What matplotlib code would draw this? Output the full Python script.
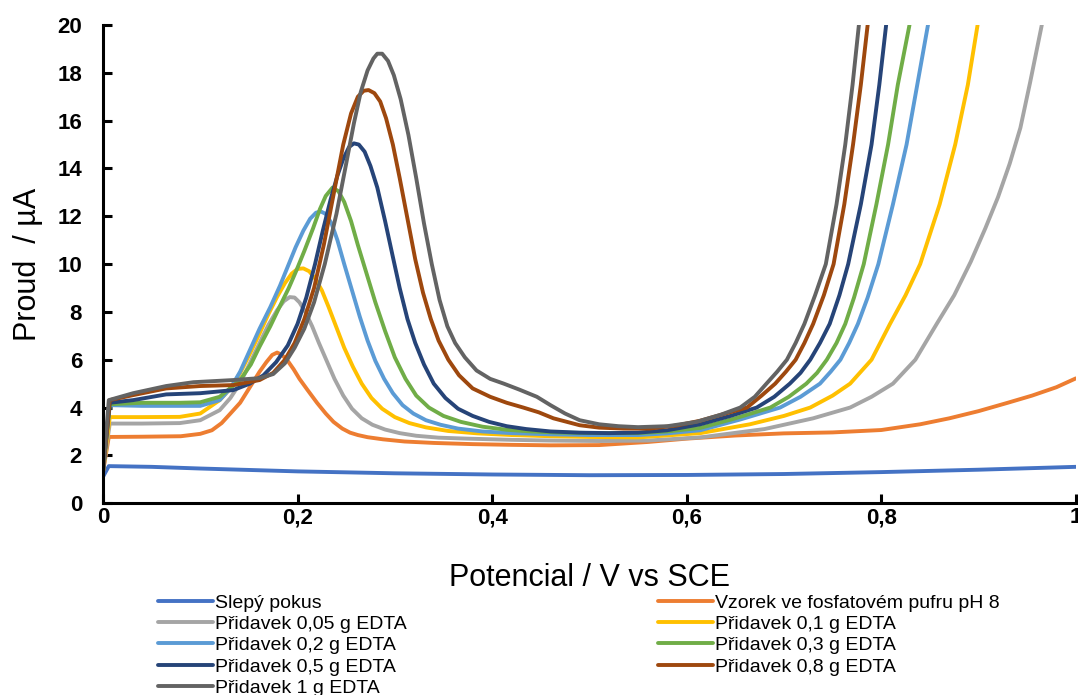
import matplotlib.pyplot as plt
from matplotlib.ticker import FuncFormatter

plt.rcParams['font.family'] = ['Liberation Sans', 'DejaVu Sans']

# Slepý pokus
x_slepy = [0, 0.006, 0.05, 0.1, 0.2, 0.3, 0.4, 0.5, 0.6, 0.7, 0.8, 0.9, 1.0]
y_slepy = [1.1, 1.55, 1.52, 1.45, 1.33, 1.25, 1.2, 1.17, 1.18, 1.22, 1.3, 1.4, 1.52]

# Vzorek ve fosfatovém pufru pH 8
x_vzorek = [0, 0.006, 0.04, 0.08, 0.1, 0.112, 0.122, 0.131, 0.141, 0.151, 0.161, 0.168,
            0.174, 0.179, 0.184, 0.19, 0.196, 0.202, 0.21, 0.22, 0.229, 0.237, 0.246,
            0.254, 0.262, 0.272, 0.288, 0.31, 0.34, 0.38, 0.42, 0.46, 0.51, 0.56, 0.6,
            0.65, 0.7, 0.75, 0.8, 0.84, 0.87, 0.9, 0.93, 0.955, 0.98, 1.0]
y_vzorek = [1.3, 2.77, 2.78, 2.8, 2.9, 3.05, 3.35, 3.75, 4.2, 4.85, 5.5, 5.9,
            6.2, 6.3, 6.2, 5.95, 5.6, 5.2, 4.75, 4.2, 3.75, 3.4, 3.12,
            2.95, 2.85, 2.76, 2.67, 2.58, 2.52, 2.47, 2.44, 2.42, 2.43, 2.56, 2.7,
            2.83, 2.92, 2.96, 3.06, 3.3, 3.55, 3.85, 4.2, 4.5, 4.85, 5.22]

# Přidavek 0,05 g EDTA
x_005 = [0, 0.007, 0.04, 0.079, 0.1, 0.12, 0.131, 0.141, 0.151, 0.161, 0.17, 0.179,
         0.186, 0.192, 0.197, 0.202, 0.208, 0.215, 0.222, 0.23, 0.238, 0.247, 0.256,
         0.266, 0.277, 0.29, 0.305, 0.322, 0.345, 0.374, 0.42, 0.46, 0.51, 0.56,
         0.614, 0.68, 0.73, 0.768, 0.79, 0.812, 0.835, 0.857, 0.875, 0.892, 0.907,
         0.92, 0.932, 0.943, 0.953, 0.965]
y_005 = [1.3, 3.33, 3.33, 3.35, 3.47, 3.89, 4.4, 5.02, 5.85, 6.7, 7.45, 8.07,
         8.45, 8.62, 8.6, 8.4, 8.0, 7.4, 6.7, 5.95, 5.2, 4.5, 3.95,
         3.55, 3.28, 3.08, 2.93, 2.82, 2.74, 2.7, 2.65, 2.62, 2.6, 2.62,
         2.75, 3.1, 3.55, 4.0, 4.45, 5.0, 6.0, 7.5, 8.7, 10.1, 11.5,
         12.8, 14.2, 15.7, 17.6, 20]

# Přidavek 0,1 g EDTA
x_01 = [0, 0.007, 0.04, 0.079, 0.1, 0.12, 0.131, 0.141, 0.151, 0.161, 0.17, 0.179,
        0.187, 0.194, 0.2, 0.206, 0.212, 0.218, 0.225, 0.232, 0.24, 0.248, 0.257,
        0.266, 0.276, 0.287, 0.3, 0.315, 0.332, 0.355, 0.385, 0.42, 0.46, 0.5, 0.55,
        0.614, 0.665, 0.7, 0.727, 0.75, 0.768, 0.79, 0.809, 0.825, 0.84, 0.86,
        0.876, 0.889, 0.899]
y_01 = [1.3, 3.6, 3.6, 3.61, 3.75, 4.31, 4.8, 5.44, 6.25, 7.1, 7.9, 8.63,
        9.2, 9.6, 9.8, 9.82, 9.7, 9.4, 8.9, 8.2, 7.35, 6.5, 5.7,
        5.0, 4.4, 3.95, 3.6, 3.35, 3.17, 3.02, 2.92, 2.85, 2.8, 2.77, 2.75,
        2.93, 3.3, 3.65, 4.0, 4.5, 5.0, 6.0, 7.5, 8.7, 10.0, 12.5,
        15.0, 17.5, 20]

# Přidavek 0,2 g EDTA
x_02 = [0, 0.007, 0.04, 0.079, 0.1, 0.12, 0.131, 0.141, 0.151, 0.161, 0.172, 0.182,
        0.19, 0.198, 0.206, 0.213, 0.219, 0.224, 0.229, 0.235, 0.241, 0.248, 0.256,
        0.264, 0.272, 0.28, 0.289, 0.298, 0.308, 0.319, 0.332, 0.347, 0.365, 0.39,
        0.42, 0.46, 0.5, 0.55, 0.58, 0.614, 0.655, 0.696, 0.717, 0.737, 0.748,
        0.758, 0.767, 0.776, 0.786, 0.797, 0.812, 0.826, 0.837, 0.848]
y_02 = [1.3, 4.1, 4.07, 4.07, 4.07, 4.31, 4.8, 5.5, 6.4, 7.3, 8.2, 9.1,
        9.9, 10.7, 11.4, 11.9, 12.15, 12.2, 12.1, 11.7, 11.0, 10.0, 8.9,
        7.8, 6.8, 5.95, 5.2, 4.6, 4.1, 3.75, 3.47, 3.28, 3.12, 3.0,
        2.93, 2.88, 2.85, 2.85, 2.92, 3.05, 3.5, 4.0, 4.45, 5.0, 5.5,
        6.0, 6.7, 7.5, 8.6, 10.0, 12.5, 15.0, 17.5, 20]

# Přidavek 0,3 g EDTA
x_03 = [0, 0.007, 0.04, 0.079, 0.1, 0.12, 0.141, 0.152, 0.161, 0.172, 0.182, 0.191,
        0.199, 0.207, 0.216, 0.223, 0.229, 0.236, 0.242, 0.248, 0.255, 0.262, 0.271,
        0.28, 0.29, 0.3, 0.311, 0.322, 0.335, 0.35, 0.368, 0.39, 0.415, 0.44, 0.47,
        0.51, 0.55, 0.58, 0.614, 0.65, 0.686, 0.705, 0.723, 0.734, 0.744, 0.754,
        0.763, 0.772, 0.782, 0.795, 0.807, 0.817, 0.829]
y_03 = [1.3, 4.14, 4.2, 4.2, 4.22, 4.45, 5.15, 5.8, 6.55, 7.4, 8.25, 9.0,
        9.75, 10.55, 11.5, 12.3, 12.85, 13.2, 13.05, 12.6, 11.8, 10.8, 9.6,
        8.4, 7.2, 6.1, 5.2, 4.5, 4.0, 3.65, 3.4, 3.2, 3.07, 3.0, 2.95,
        2.93, 2.93, 3.0, 3.15, 3.55, 4.0, 4.45, 5.0, 5.45, 6.0, 6.7,
        7.5, 8.6, 10.0, 12.5, 15.0, 17.5, 20]

# Přidavek 0,5 g EDTA
x_05 = [0, 0.007, 0.031, 0.065, 0.1, 0.134, 0.151, 0.165, 0.178, 0.19, 0.2, 0.209,
        0.218, 0.226, 0.234, 0.241, 0.247, 0.253, 0.258, 0.263, 0.269, 0.275, 0.282,
        0.29, 0.298, 0.305, 0.313, 0.321, 0.33, 0.34, 0.352, 0.365, 0.38, 0.397,
        0.415, 0.435, 0.46, 0.49, 0.52, 0.55, 0.58, 0.614, 0.645, 0.672, 0.69,
        0.706, 0.717, 0.727, 0.737, 0.747, 0.757, 0.766, 0.779, 0.79, 0.798, 0.805]
y_05 = [1.3, 4.2, 4.31, 4.55, 4.6, 4.73, 5.0, 5.35, 5.9, 6.6, 7.5, 8.6,
        10.0, 11.4, 12.7, 13.7, 14.4, 14.9, 15.05, 15.0, 14.7, 14.1, 13.2,
        11.8, 10.3, 9.0, 7.7, 6.7, 5.8, 5.0, 4.4, 3.95, 3.65, 3.4,
        3.22, 3.1, 3.0, 2.95, 2.93, 2.95, 3.05, 3.3, 3.65, 4.0, 4.45,
        5.0, 5.45, 6.0, 6.7, 7.5, 8.7, 10.0, 12.5, 15.0, 17.5, 20]

# Přidavek 0,8 g EDTA
x_08 = [0, 0.007, 0.031, 0.065, 0.1, 0.134, 0.161, 0.175, 0.187, 0.197, 0.207, 0.217,
        0.227, 0.237, 0.247, 0.255, 0.262, 0.268, 0.273, 0.279, 0.285, 0.291, 0.298,
        0.305, 0.313, 0.321, 0.329, 0.337, 0.345, 0.355, 0.366, 0.38, 0.398, 0.415,
        0.432, 0.448, 0.463, 0.477, 0.49, 0.51, 0.535, 0.562, 0.59, 0.614, 0.64,
        0.662, 0.677, 0.691, 0.702, 0.712, 0.721, 0.73, 0.741, 0.751, 0.762, 0.771,
        0.779, 0.786]
y_08 = [1.3, 4.31, 4.52, 4.8, 4.9, 4.94, 5.15, 5.45, 6.0, 6.7, 7.7, 9.0,
        10.8, 12.9, 15.0, 16.3, 17.0, 17.25, 17.28, 17.15, 16.8, 16.1, 15.0,
        13.6, 11.9, 10.2, 8.8, 7.7, 6.8, 6.0, 5.35, 4.8, 4.45, 4.2,
        4.0, 3.8, 3.55, 3.4, 3.26, 3.16, 3.12, 3.12, 3.25, 3.45, 3.75,
        4.0, 4.5, 5.0, 5.5, 6.0, 6.7, 7.5, 8.7, 10.0, 12.5, 15.0,
        17.5, 20]

# Přidavek 1 g EDTA
x_1 = [0, 0.006, 0.031, 0.065, 0.093, 0.134, 0.161, 0.175, 0.187, 0.197, 0.207, 0.217,
       0.228, 0.24, 0.25, 0.258, 0.265, 0.272, 0.278, 0.282, 0.287, 0.293, 0.299,
       0.306, 0.314, 0.322, 0.33, 0.338, 0.346, 0.354, 0.362, 0.372, 0.384, 0.398,
       0.412, 0.428, 0.446, 0.46, 0.475, 0.49, 0.51, 0.53, 0.55, 0.58, 0.61, 0.635,
       0.655, 0.67, 0.682, 0.693, 0.703, 0.712, 0.721, 0.732, 0.743, 0.754, 0.763,
       0.7705, 0.777]
y_1 = [1.3, 4.31, 4.6, 4.9, 5.06, 5.15, 5.23, 5.4, 5.85, 6.5, 7.3, 8.4,
       10.0, 12.1, 14.2, 15.9, 17.2, 18.1, 18.6, 18.8, 18.8, 18.5, 17.9,
       16.9, 15.4, 13.6, 11.7, 10.0, 8.5, 7.4, 6.7, 6.1, 5.55, 5.2,
       5.0, 4.75, 4.45, 4.1, 3.75, 3.47, 3.3, 3.22, 3.18, 3.22, 3.4, 3.7,
       4.0, 4.45, 5.0, 5.5, 6.0, 6.7, 7.5, 8.7, 10.0, 12.5, 15.0,
       17.5, 20]

series = [
    (x_slepy, y_slepy, '#4472C4', 'Slepý pokus'),
    (x_vzorek, y_vzorek, '#ED7D31', 'Vzorek ve fosfatovém pufru pH 8'),
    (x_005, y_005, '#A5A5A5', 'Přidavek 0,05 g EDTA'),
    (x_01, y_01, '#FFC000', 'Přidavek 0,1 g EDTA'),
    (x_02, y_02, '#5B9BD5', 'Přidavek 0,2 g EDTA'),
    (x_03, y_03, '#70AD47', 'Přidavek 0,3 g EDTA'),
    (x_05, y_05, '#264478', 'Přidavek 0,5 g EDTA'),
    (x_08, y_08, '#9E480E', 'Přidavek 0,8 g EDTA'),
    (x_1, y_1, '#636363', 'Přidavek 1 g EDTA'),
]

fig = plt.figure(figsize=(10.78, 6.95), dpi=100)
ax = fig.add_axes([0.0955, 0.276, 0.9025, 0.688])

lines = []
for xs, ys, c, lab in series:
    ln, = ax.plot(xs, ys, color=c, lw=2.8, label=lab,
                  solid_joinstyle='round', solid_capstyle='round')
    lines.append(ln)

ax.set_xlim(0, 1)
ax.set_ylim(0, 20)
ax.set_xticks([0, 0.2, 0.4, 0.6, 0.8, 1.0])
ax.set_yticks(range(0, 21, 2))
ax.xaxis.set_major_formatter(FuncFormatter(lambda v, p: ('%g' % round(v, 1)).replace('.', ',')))

for s in ['top', 'right']:
    ax.spines[s].set_visible(False)
for s in ['left', 'bottom']:
    ax.spines[s].set_linewidth(2.2)
    ax.spines[s].set_color('black')

ax.tick_params(axis='both', direction='in', length=6.5, width=2.2, labelsize=16)
ax.tick_params(axis='x', pad=3)
ax.tick_params(axis='y', pad=15)
for t in ax.get_xticklabels() + ax.get_yticklabels():
    t.set_fontweight('bold')

ax.set_xlabel('Potencial / V vs SCE', fontsize=22, labelpad=25)
ax.set_ylabel('Proud  / µA', fontsize=22, labelpad=10)

# Excel lays the legend out row by row
order = [0, 2, 4, 6, 8, 1, 3, 5, 7]
fig.legend([lines[i] for i in order], [lines[i].get_label() for i in order],
           ncol=2, loc='upper left', bbox_to_anchor=(158 / 1078, 1 - 594 / 695),
           frameon=False, fontsize=14, handlelength=2.85, handletextpad=0.1,
           borderpad=0, borderaxespad=0, labelspacing=0.19, columnspacing=12.9)

fig.savefig('out.png', dpi=100)
